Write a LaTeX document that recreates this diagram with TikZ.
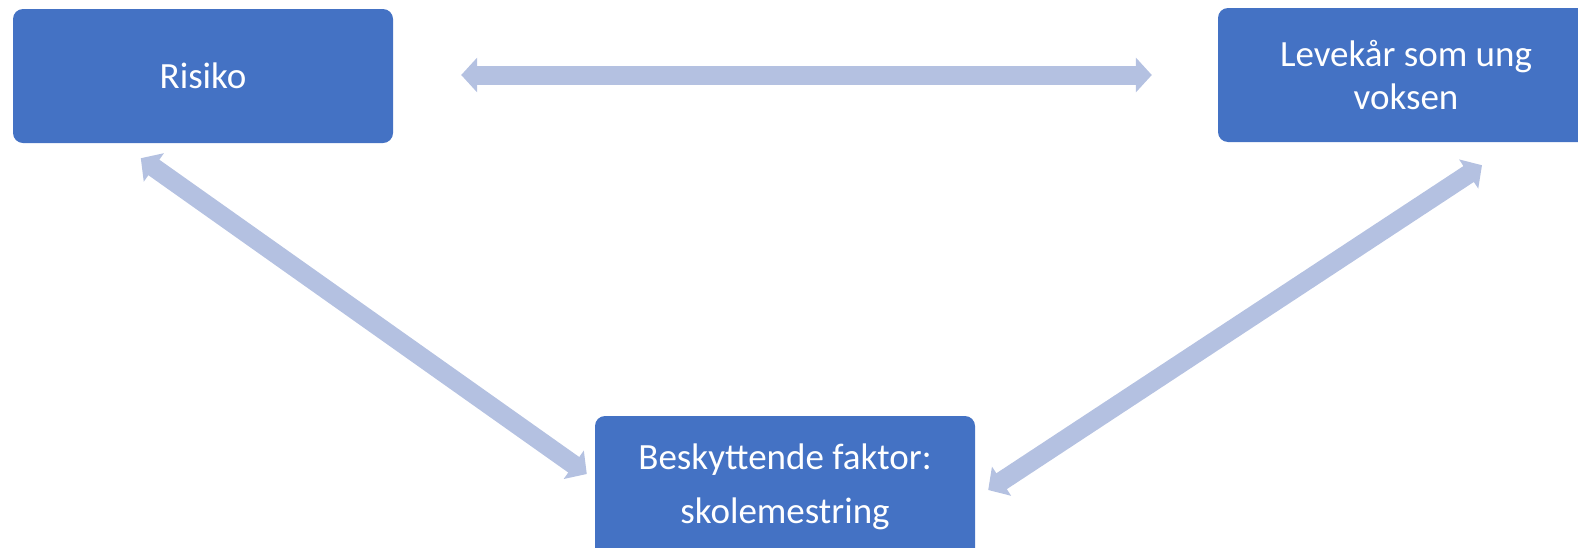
\documentclass[tikz,border=0pt]{standalone}
\usepackage{fontspec}
\setmainfont{Carlito}
\usepackage{xcolor}
\usepackage{tikz}
\usetikzlibrary{arrows.meta}
\definecolor{boxblue}{HTML}{4472C4}
\definecolor{linkblue}{HTML}{B4C1E1}

\begin{document}
\begin{tikzpicture}[
        x=1pt, y=-1pt,
        box/.style={
            rectangle,
            fill=boxblue,
            draw=none,
            text=white,
            align=center,
            rounded corners=10pt,
            minimum width=380pt,
            minimum height=134pt,
            inner sep=0pt
        },
        link/.style={
            draw=linkblue,
            line width=19pt,
            {Triangle[width=34pt,length=16pt]}-{Triangle[width=34pt,length=16pt]}
        }
    ]
        \useasboundingbox (0,0) rectangle (1578,547);

        % Boxes
        \node[box, font=\fontsize{37}{53}\selectfont] (risiko) at (203,76) {Risiko};
        \node[box, font=\fontsize{37}{43}\selectfont, minimum width=376pt] (vilkar) at (1406,75) {Levekår som ung\\voksen};
        \node[box, font=\fontsize{37}{54}\selectfont, minimum height=142pt] (skole) at (785,487) {Beskyttende faktor:\\skolemestring};

        % Links
        \draw[link] ([shift={(68,-1)}]risiko.east) -- ([shift={(-66,0)}]vilkar.west);
        \draw[link] ([shift={(128,15)}]risiko.south west) -- ([shift={(-8,-13)}]skole.west);
        \draw[link] ([shift={(76,23)}]vilkar.south) -- ([shift={(13,3)}]skole.east);
    \end{tikzpicture}
\end{document}
